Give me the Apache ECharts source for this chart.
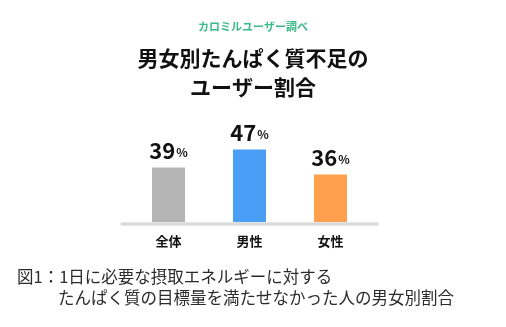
<!DOCTYPE html>
<html>
<head>
<meta charset="utf-8">
<script src="https://cdn.jsdelivr.net/npm/echarts@6/dist/echarts.min.js"></script>
<style>
  html, body { margin: 0; padding: 0; background: #ffffff; }
  #chart { width: 506px; height: 327px; }
</style>
</head>
<body>
<div id="chart"></div>
<script>
// Share of users falling short of their protein target, by sex
const categories = ['全体', '男性', '女性'];
const shortfallPct = [39, 47, 36];
const barColors = ['#b4b4b4', '#4a9ef6', '#fea04d'];

const sourceNote = 'カロミルユーザー調べ';
const chartTitle = '男女別たんぱく質不足の\nユーザー割合';
const captionHead = '図1：1日に必要な摂取エネルギーに対する';
const captionTail = 'たんぱく質の目標量を満たせなかった人の男女別割合';

const FONT = '"Noto Sans CJK JP", "Noto Sans", sans-serif';

const chart = echarts.init(document.getElementById('chart'), null, { renderer: 'canvas' });

chart.setOption({
  backgroundColor: '#ffffff',
  animation: false,
  title: [
    {
      text: sourceNote,
      left: 'center',
      top: 19,
      padding: 0,
      textStyle: { fontFamily: FONT, fontSize: 11, fontWeight: 'bold', color: '#3dba8a', lineHeight: 16 }
    },
    {
      text: chartTitle,
      left: 'center',
      top: 44,
      padding: 0,
      textStyle: { fontFamily: FONT, fontSize: 21, fontWeight: 'bold', color: '#111111', lineHeight: 29 }
    },
    {
      text: captionHead,
      left: 17,
      top: 266,
      padding: 0,
      textStyle: { fontFamily: FONT, fontSize: 16.5, fontWeight: 'normal', color: '#2b2b2b', lineHeight: 21 }
    },
    {
      text: captionTail,
      left: 58,
      top: 287,
      padding: 0,
      textStyle: { fontFamily: FONT, fontSize: 16.5, fontWeight: 'normal', color: '#2b2b2b', lineHeight: 21 }
    }
  ],
  grid: [
    { left: 128, width: 243, top: 120, height: 102 },
    { left: 122, width: 255, top: 120, height: 104 }
  ],
  xAxis: [
    {
      type: 'category',
      gridIndex: 0,
      data: categories,
      axisLine: { show: false },
      axisTick: { show: false },
      axisLabel: {
        margin: 13,
        fontFamily: FONT,
        fontSize: 13,
        fontWeight: 'bold',
        color: '#111111'
      }
    },
    {
      // baseline rule under the bars
      type: 'value',
      gridIndex: 1,
      min: 0,
      max: 1,
      axisLine: { show: true, lineStyle: { color: '#dadada', width: 3.5 } },
      axisTick: { show: false },
      axisLabel: { show: false },
      splitLine: { show: false }
    }
  ],
  yAxis: [
    { type: 'value', gridIndex: 0, min: 15, max: 60, show: false },
    { type: 'value', gridIndex: 1, min: 0, max: 1, show: false }
  ],
  series: [
    {
      type: 'bar',
      xAxisIndex: 0,
      yAxisIndex: 0,
      barWidth: 33,
      z: 3,
      data: shortfallPct.map((v, i) => ({ value: v, itemStyle: { color: barColors[i] } })),
      label: {
        show: true,
        position: 'top',
        distance: 6,
        formatter: '{v|{c}}{p|%}',
        rich: {
          v: { fontFamily: FONT, fontSize: 22, fontWeight: 'bold', color: '#111111' },
          p: { fontFamily: FONT, fontSize: 12, fontWeight: 'bold', color: '#111111', padding: [4, 0, 0, 1] }
        }
      }
    }
  ]
});
</script>
</body>
</html>
